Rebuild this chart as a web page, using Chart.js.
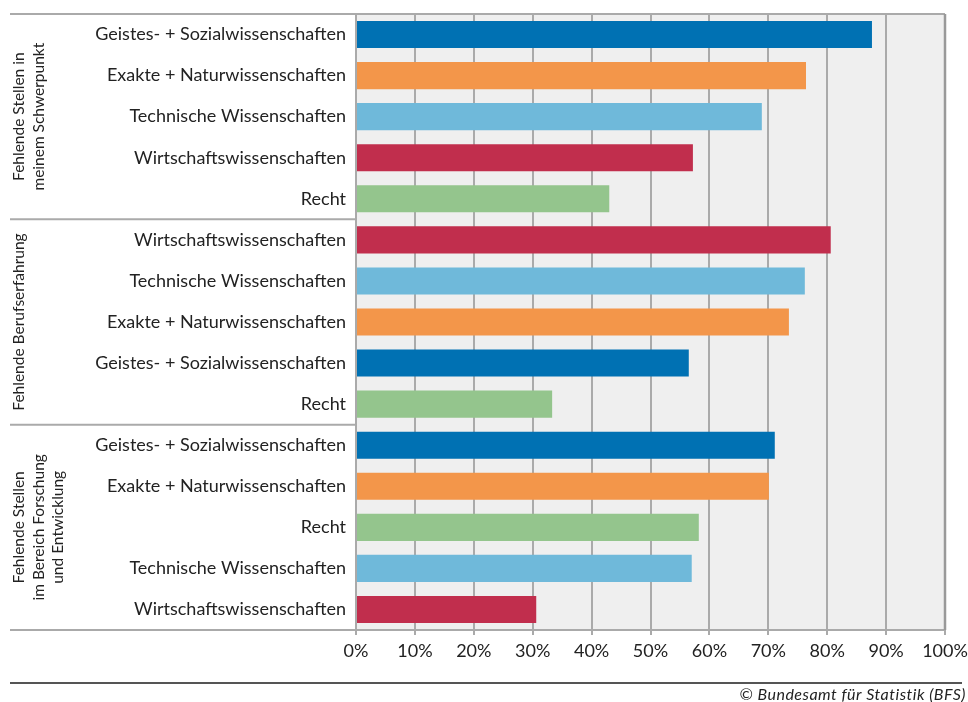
<!DOCTYPE html>
<html>
<head>
<meta charset="utf-8">
<script src="https://cdn.jsdelivr.net/npm/chart.js@4/dist/chart.umd.min.js"></script>
<style>
html,body{margin:0;padding:0;background:#fff;}
#wrap{position:relative;width:968px;height:702px;}
canvas{display:block;}
</style>
</head>
<body>
<div id="wrap"><canvas id="c" width="968" height="702"></canvas></div>
<script>
const categories = [
  'Geistes- + Sozialwissenschaften','Exakte + Naturwissenschaften','Technische Wissenschaften','Wirtschaftswissenschaften','Recht',
  'Wirtschaftswissenschaften','Technische Wissenschaften','Exakte + Naturwissenschaften','Geistes- + Sozialwissenschaften','Recht',
  'Geistes- + Sozialwissenschaften','Exakte + Naturwissenschaften','Recht','Technische Wissenschaften','Wirtschaftswissenschaften'
];
const values = [
  87.6, 76.4, 68.9, 57.2, 43.0,
  80.6, 76.2, 73.5, 56.5, 33.3,
  71.1, 70.1, 58.2, 57.0, 30.6
];
const groupLabels = [
  ['Fehlende Stellen in','meinem Schwerpunkt'],
  ['Fehlende Berufserfahrung'],
  ['Fehlende Stellen','im Bereich Forschung','und Entwicklung']
];
const groupSize = 5;
const fieldColors = {
  'Geistes- + Sozialwissenschaften':'#0071b3',
  'Exakte + Naturwissenschaften':'#f3964a',
  'Technische Wissenschaften':'#6fb9da',
  'Wirtschaftswissenschaften':'#c12e4d',
  'Recht':'#94c58d'
};
const xTicks = [0,10,20,30,40,50,60,70,80,90,100];
const source = '© Bundesamt für Statistik (BFS)';

const FONT = 'Lato, "Open Sans", sans-serif';

const decor = {
  id:'decor',
  beforeDraw(chart){
    const {ctx, chartArea:a} = chart;
    ctx.save();
    ctx.fillStyle = '#efefef';
    ctx.fillRect(a.left, a.top, a.right-a.left, a.bottom-a.top);
    ctx.restore();
  },
  afterDraw(chart){
    const {ctx, chartArea:a, scales} = chart;
    const y = scales.y;
    ctx.save();
    ctx.strokeStyle = '#aaaaaa';
    ctx.lineWidth = 2;
    ctx.beginPath(); ctx.moveTo(10, a.top); ctx.lineTo(a.right, a.top); ctx.stroke();
    ctx.strokeStyle = '#999999';
    ctx.lineWidth = 2.5;
    ctx.beginPath(); ctx.moveTo(a.right, a.top); ctx.lineTo(a.right, a.bottom); ctx.stroke();
    ctx.strokeStyle = '#aaaaaa';
    ctx.lineWidth = 2;
    ctx.beginPath(); ctx.moveTo(10, a.bottom); ctx.lineTo(a.left, a.bottom); ctx.stroke();
    const nG = groupLabels.length;
    for(let g=1; g<nG; g++){
      const yy = (y.getPixelForValue(g*groupSize-1) + y.getPixelForValue(g*groupSize))/2;
      ctx.beginPath(); ctx.moveTo(10, yy); ctx.lineTo(a.left, yy); ctx.stroke();
    }
    ctx.fillStyle = '#222';
    ctx.font = '15.5px ' + FONT;
    ctx.textAlign = 'center';
    ctx.textBaseline = 'middle';
    for(let g=0; g<nG; g++){
      const y0 = g===0 ? a.top : (y.getPixelForValue(g*groupSize-1) + y.getPixelForValue(g*groupSize))/2;
      const y1 = g===nG-1 ? a.bottom : (y.getPixelForValue((g+1)*groupSize-1) + y.getPixelForValue((g+1)*groupSize))/2;
      const cy = (y0+y1)/2;
      groupLabels[g].forEach((line,i)=>{
        ctx.save();
        ctx.translate(19 + i*19.5, cy);
        ctx.rotate(-Math.PI/2);
        ctx.fillText(line, 0, 0);
        ctx.restore();
      });
    }
    ctx.strokeStyle = '#555555';
    ctx.lineWidth = 2;
    ctx.beginPath(); ctx.moveTo(10, 683); ctx.lineTo(962, 683); ctx.stroke();
    ctx.font = 'italic 16px ' + FONT;
    try { ctx.letterSpacing = '0.5px'; } catch(e){}
    ctx.textAlign = 'right';
    ctx.textBaseline = 'alphabetic';
    ctx.fillText(source, 966, 700);
    ctx.restore();
  }
};

new Chart(document.getElementById('c'), {
  type:'bar',
  data:{
    labels: categories,
    datasets:[{
      data: values,
      backgroundColor: categories.map(c=>fieldColors[c]),
      borderWidth:0,
      barPercentage:0.66,
      categoryPercentage:1
    }]
  },
  options:{
    indexAxis:'y',
    responsive:false,
    animation:false,
    devicePixelRatio:1,
    layout:{padding:{top:14,right:23,bottom:0,left:0}},
    plugins:{legend:{display:false},tooltip:{enabled:false}},
    scales:{
      x:{
        min:0,max:100,
        afterBuildTicks(s){ s.ticks = xTicks.map(v=>({value:v})); },
        afterFit(s){ s.height = 72; s.paddingLeft = 0; s.paddingRight = 0; },
        grid:{color:'#aaaaaa',lineWidth:2,drawTicks:true,tickLength:5,tickColor:'#aaaaaa'},
        border:{display:true,color:'#aaaaaa',width:2},
        ticks:{
          color:'#222',
          font:{family:FONT,size:18},
          padding:5,
          callback:(v)=>v+'%'
        }
      },
      y:{
        afterFit(s){ s.width = 356; s.paddingTop = 0; s.paddingBottom = 0; },
        grid:{display:false,drawTicks:false},
        border:{display:true,color:'#aaaaaa',width:2},
        ticks:{
          color:'#222',
          font:{family:FONT,size:18},
          padding:10,
          autoSkip:false
        }
      }
    }
  },
  plugins:[decor]
});
</script>
</body>
</html>
